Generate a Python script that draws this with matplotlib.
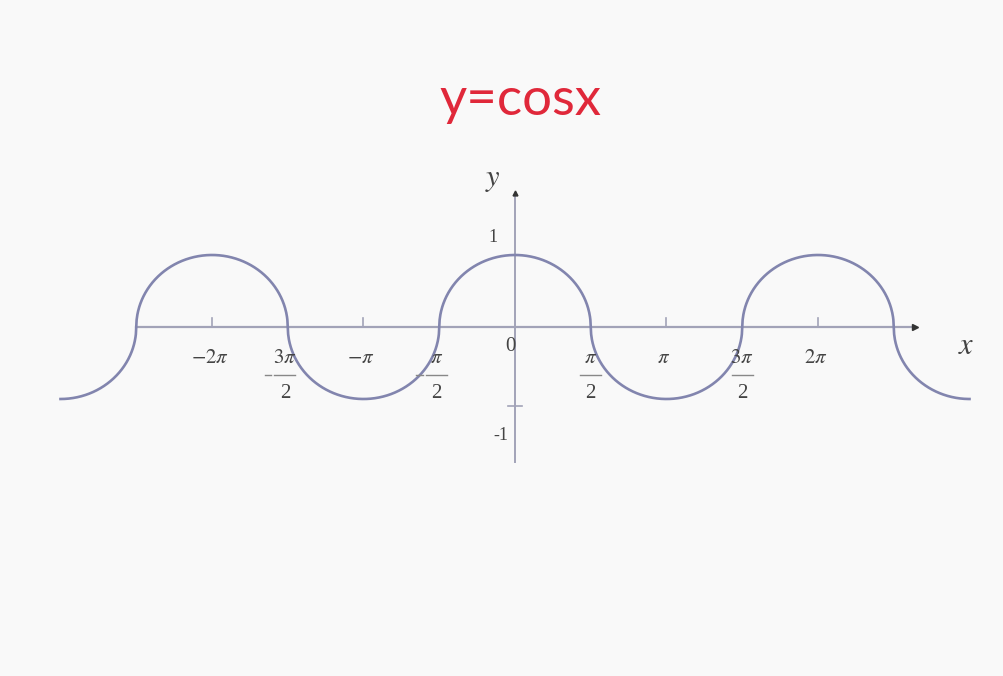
import numpy as np
import matplotlib
matplotlib.use("Agg")
import matplotlib.pyplot as plt

plt.rcParams['mathtext.fontset'] = 'stix'

# curve range (in units of pi) and the labelled ticks on the x axis
x_start, x_end = -3.0, 3.0
int_ticks = [-2.0, -1.0, 1.0, 2.0]
int_labels = [r'$-2\pi$', r'$-\pi$', r'$\pi$', r'$2\pi$']
frac_ticks = [-1.5, -0.5, 0.5, 1.5]
frac_nums = [r'$3\pi$', r'$\pi$', r'$\pi$', r'$3\pi$']
frac_den = '2'
y_ticks = [-1.0]
y_labels = ['1', '-1']
y_label_pos = [1.0, -1.0]

curve_col = '#8285ae'
axis_col = '#a2a3b8'
text_col = '#444444'

fig = plt.figure(figsize=(10.04, 6.76), dpi=100)
fig.patch.set_facecolor('#f9f9f9')
ax = fig.add_axes([0, 0, 1, 1])
ax.set_facecolor('#f9f9f9')
ax.axis('off')

# pixel mapping: origin at (515, 327), pi -> 151.5 px, 1 -> 72 px
px_pi = 151.5
px_one = 72.0
ax.set_xlim(-515 / px_pi * np.pi, (1004 - 515) / px_pi * np.pi)
ax.set_ylim(-(676 - 327) / px_one, 327 / px_one)

# y = cos x, drawn with round humps like the reference
x = np.linspace(x_start * np.pi, x_end * np.pi, 2401)
c = np.cos(x)
d = np.arccos(np.abs(c)) * 2 / np.pi
y = np.sign(c) * np.sqrt(np.clip(1 - d ** 2, 0, 1))

# axes
ax.plot([-2.5 * np.pi, 2.64 * np.pi], [0, 0], color=axis_col, lw=1.6, zorder=1)
ax.plot([0, 0], [-1.88, 1.85], color=axis_col, lw=1.4, zorder=1)
ax.plot([2.64 * np.pi], [0], marker='>', ms=4, color='#333333')
ax.plot([0], [1.86], marker='^', ms=3.5, color='#333333')

ax.plot(x, y, color=curve_col, lw=1.9, zorder=2)

for t in int_ticks:
    ax.plot([t * np.pi, t * np.pi], [0, 0.13], color=axis_col, lw=1.2)
for t in y_ticks:
    ax.plot([-0.045 * np.pi, 0.045 * np.pi], [t - 0.1, t - 0.1], color=axis_col, lw=1.2)

for t, lab in zip(int_ticks, int_labels):
    ax.text(t * np.pi - 0.05, -0.42, lab, fontsize=15, color=text_col,
            ha='center', va='center')

# stacked fractions: numerator, bar, denominator, leading minus
for t, num in zip(frac_ticks, frac_nums):
    xc = t * np.pi + (-0.06 if t < 0 else 0.0)
    ax.text(xc, -0.42, num, fontsize=15, color=text_col, ha='center', va='center')
    ax.plot([xc - 0.22, xc + 0.22], [-0.67, -0.67], color='#888888', lw=1.0)
    ax.text(xc, -0.93, frac_den, fontsize=15, family='Liberation Serif',
            color=text_col, ha='center', va='center')
    if t < 0:
        ax.plot([xc - 0.42, xc - 0.28], [-0.67, -0.67], color='#888888', lw=1.0)

ax.text(-0.1, -0.27, '0', fontsize=15, family='Liberation Serif', color=text_col,
        ha='center', va='center')
for p, lab in zip(y_label_pos, y_labels):
    ax.text(-0.46 if p > 0 else -0.3, p * 1.25 if p > 0 else -1.5, lab, fontsize=13,
            family='Liberation Serif', color=text_col, ha='center', va='center')

ax.text(-0.45, 2.05, r'$y$', fontsize=22, color=text_col, ha='center', va='center')
ax.text(2.98 * np.pi, -0.25, r'$x$', fontsize=22, color=text_col, ha='center', va='center')

fig.text(0.518, 1 - 100 / 676, 'y=cosx', fontsize=38, family='Lato', color='#e0283a',
         ha='center', va='center')

fig.savefig('out.png', dpi=100, facecolor=fig.get_facecolor())
